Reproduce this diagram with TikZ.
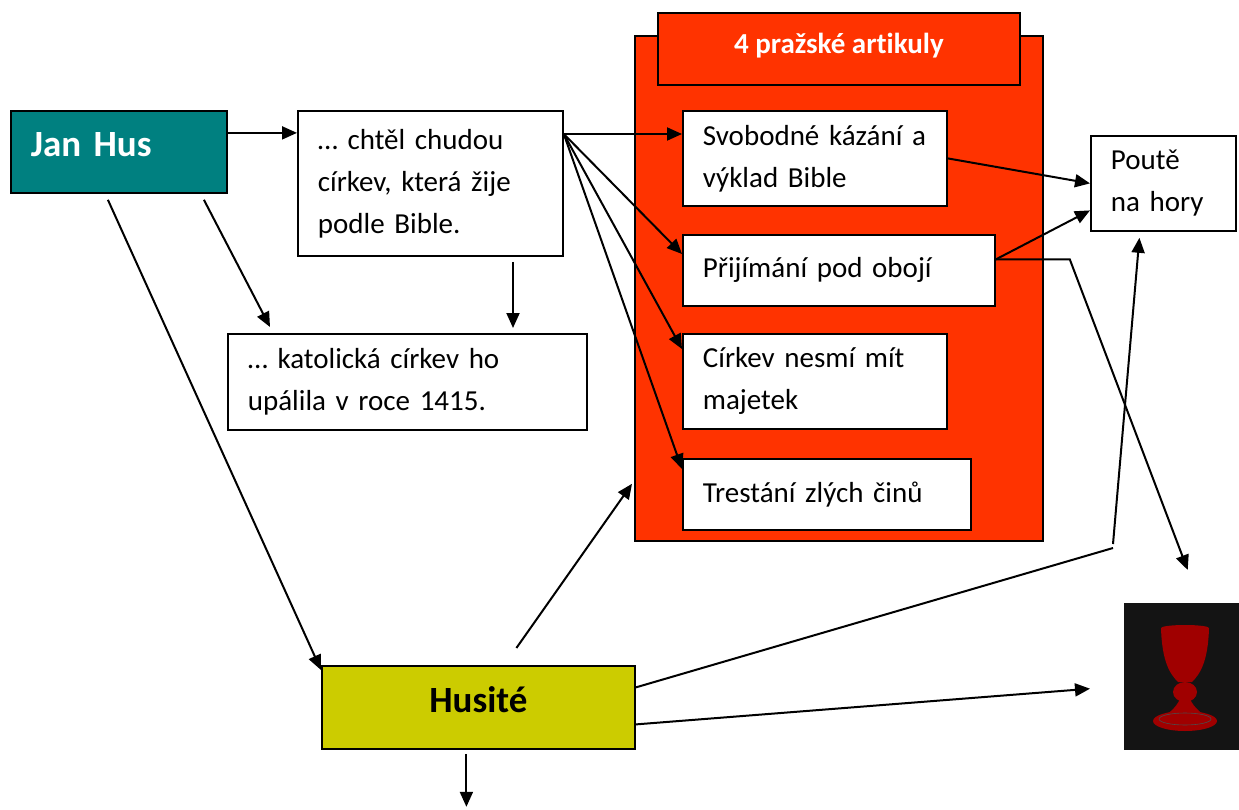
\documentclass[tikz,border=0pt]{standalone}
\usepackage{fontspec}
\setmainfont{Carlito}[Ligatures=NoCommon]
\usetikzlibrary{arrows.meta}
\tikzset{>={Triangle[length=15pt,width=13pt]}}
\definecolor{husteal}{HTML}{008080}
\definecolor{artred}{HTML}{FF3300}
\definecolor{husyellow}{HTML}{CCCC00}
\definecolor{kalbg}{HTML}{141414}
\definecolor{kalred}{HTML}{A00000}
\tikzset{
	box/.style={draw, line width=1.8pt, fill=white, anchor=north west, inner xsep=20pt, inner ysep=0pt, align=left, font=\fontsize{29}{42}\selectfont},
	bigbox/.style={box, align=center, font=\fontsize{37}{44}\selectfont\bfseries},
	link/.style={line width=2pt}
}

\begin{document}
\begin{tikzpicture}[x=1pt, y=-1pt]
    \useasboundingbox (0, 0) rectangle (1239, 810);
    \node[box, fill=artred, minimum width=408pt, minimum height=505pt] (art) at (634, 35) {};
    \node[box, fill=artred, align=center, text=white, font=\fontsize{29}{42}\selectfont\bfseries, minimum width=362pt, minimum height=72pt, text depth=12pt] (head) at (657, 12) {4 pražské artikuly};
    \node[bigbox, fill=husteal, text=white, align=left, text width=176pt, minimum height=82pt, text depth=14pt] (jh) at (10, 110) {Jan Hus};
    \node[box, text width=225pt, minimum height=145pt] (chud) at (297, 110) {… chtěl chudou\\církev, která žije\\podle Bible.};
    \node[box, text width=319pt, minimum height=96pt] (kat) at (227, 333) {… katolická církev ho\\upálila v roce 1415.};
    \node[box, text width=224pt, minimum height=95pt] (svob) at (682, 110) {Svobodné kázání a\\výklad Bible};
    \node[box, text width=272pt, minimum height=71pt] (prij) at (682, 234) {Přijímání pod obojí};
    \node[box, text width=224pt, minimum height=95pt] (cirk) at (682, 333) {Církev nesmí mít\\majetek};
    \node[box, text width=248pt, minimum height=71pt] (trest) at (682, 458) {Trestání zlých činů};
    \node[box, text width=105pt, minimum height=95pt] (pout) at (1090, 135) {Poutě\\na hory};
    \node[bigbox, fill=husyellow, text width=273pt, minimum height=83pt, text depth=16pt] (hus) at (321, 665) {Husité};
    \node[draw=none, fill=kalbg, anchor=north west, inner sep=0pt, minimum width=115pt, minimum height=147pt] (kal) at (1124, 603) {};
    \fill[kalred] (1161, 628) .. controls (1162, 662) and (1170, 674) .. (1178, 682) -- (1192, 682) .. controls (1200, 674) and (1208, 662) .. (1209, 628) -- cycle;
    \fill[kalred] (1185, 628) ellipse[x radius=24pt, y radius=3pt];
    \fill[kalred] (1185, 692) ellipse[x radius=12pt, y radius=10pt];
    \fill[kalred] (1180, 699) .. controls (1176, 708) and (1168, 714) .. (1160, 719) -- (1210, 719) .. controls (1202, 714) and (1194, 708) .. (1190, 699) -- cycle;
    \fill[kalred] (1185, 721) ellipse[x radius=32pt, y radius=10pt];
    \draw[black!70, line width=0.6pt] (1185, 719) ellipse[x radius=26pt, y radius=6pt];
    \coordinate (fan) at ([yshift=-24pt]chud.north east);
    \coordinate (split) at (1113, 548);
    \draw[link, ->] ([yshift=19pt]jh.east) -- ([yshift=19pt]jh.east -| chud.west);
    \draw[link, ->] ([xshift=85pt, yshift=-6pt]jh.south) -- ([xshift=43pt, yshift=6pt]kat.north west);
    \draw[link, ->] ([xshift=-11pt, yshift=-6pt]jh.south) -- ([yshift=-5pt]hus.north west);
    \draw[link, ->] ([xshift=216pt, yshift=-5pt]chud.south west) -- ([xshift=286pt, yshift=5pt]kat.north west);
    \draw[link, ->] (fan) -- (fan -| svob.west);
    \draw[link, ->] (fan) -- ([yshift=-20pt]prij.north west);
    \draw[link, ->] (fan) -- ([yshift=-16pt]cirk.north west);
    \draw[link, ->] (fan) -- ([yshift=-11pt]trest.north west);
    \draw[link, ->] (svob.east) -- (pout.west);
    \draw[link, ->] ([yshift=11pt]prij.east) -- ([yshift=-27pt]pout.west);
    \draw[link, ->] ([yshift=11pt]prij.east) -- ([xshift=74pt, yshift=11pt]prij.east) -- ([xshift=6pt, yshift=33pt]kal.north);
    \draw[link] ([yshift=20pt]hus.east) -- (split);
    \draw[link, ->] ([yshift=4pt]split) -- ([xshift=-24pt, yshift=-6pt]pout.south);
    \draw[link, ->] ([yshift=-17pt]hus.east) -- ([xshift=-34pt, yshift=-12pt]kal.west);
    \draw[link, ->] ([xshift=38pt, yshift=17pt]hus.north) -- ([xshift=-2pt, yshift=58pt]art.south west);
    \draw[link, ->] ([xshift=-12pt, yshift=-4pt]hus.south) -- ([xshift=-12pt, yshift=-57pt]hus.south);
\end{tikzpicture}
\end{document}
